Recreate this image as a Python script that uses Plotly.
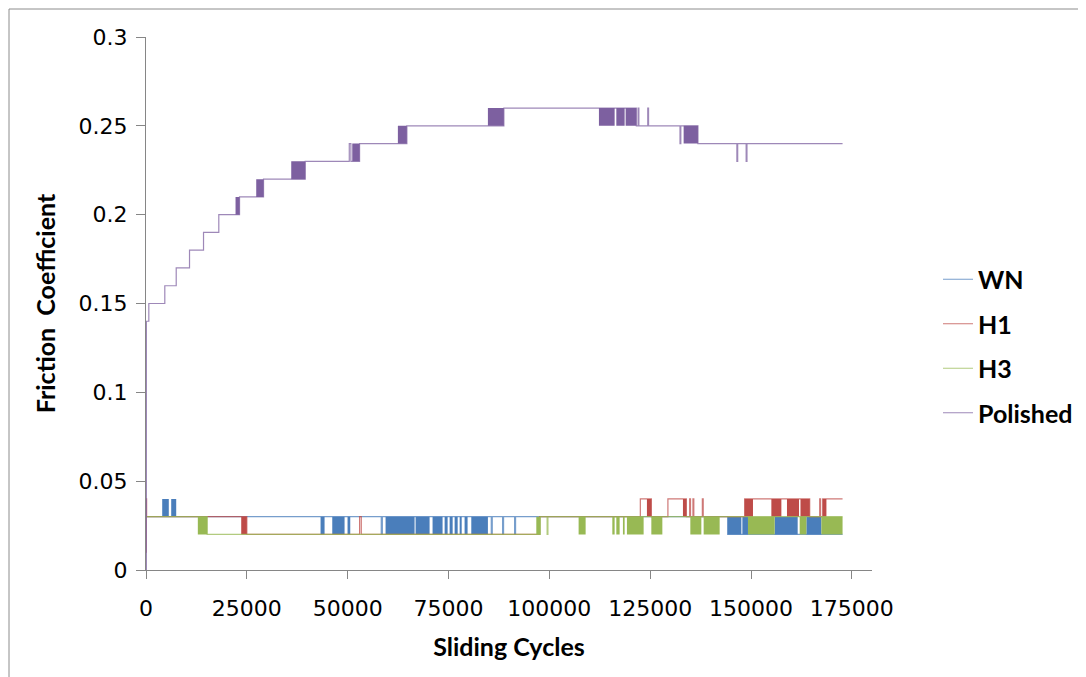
import plotly.graph_objects as go

# ---------------- data ----------------
# step lines: x = sliding cycles, y = friction coefficient (value holds until next x)
wn_x = [0, 58330, 58600, 85610, 85850, 88410, 88650, 91390, 91630, 144220, 172700]
wn_y = [0.03, 0.02, 0.03, 0.02, 0.03, 0.02, 0.03, 0.02, 0.03, 0.02, 0.02]
# dense switching regions (value flickers between lo and hi)
wn_b0 = [4020, 6250, 43280, 46180, 49970, 59400, 66840, 71050, 74040,
         75280, 76520, 77770, 78990, 80650, 144220, 147860, 155870, 163730]
wn_b1 = [5650, 7490, 44270, 49230, 50640, 66590, 70310, 73530, 74780,
         76030, 77270, 78270, 79730, 84770, 147610, 149250, 161570, 167450]
wn_lo = [0.03, 0.03] + [0.02] * 16
wn_hi = [0.04, 0.04] + [0.03] * 16

h1_x = [0, 60, 150, 25000, 52950, 53370, 97590, 122560, 125290, 129400, 133970, 134790, 135000,
        135610, 135820, 137940, 138150, 148430, 164550, 167030, 167250, 167780, 172700]
h1_y = [0.01, 0.04, 0.03, 0.02, 0.03, 0.02, 0.03, 0.04, 0.03, 0.04, 0.03, 0.04, 0.03,
        0.04, 0.03, 0.04, 0.03, 0.04, 0.03, 0.04, 0.03, 0.04, 0.04]
h1_b0 = [23610, 124200, 133130, 148430, 155050, 158920, 162270, 167780]
h1_b1 = [25000, 125290, 133970, 150490, 157530, 161900, 164550, 168700]
h1_lo = [0.02, 0.03, 0.03, 0.03, 0.03, 0.03, 0.03, 0.03]
h1_hi = [0.03, 0.04, 0.04, 0.04, 0.04, 0.04, 0.04, 0.04]

h3_x = [0, 15180, 97760, 99450, 99650, 172700]
h3_y = [0.03, 0.02, 0.03, 0.02, 0.03, 0.03]
h3_b0 = [12850, 96770, 107260, 115620, 116610, 118250, 119240, 125290, 134960, 138260,
         149250, 162070, 167450]
h3_b1 = [15180, 97760, 109000, 116190, 117430, 118670, 123380, 128020, 137690, 142230,
         155870, 163730, 172700]
h3_lo = [0.02] * 13
h3_hi = [0.03] * 13

pol_x = [0, 100, 700, 4660, 7490, 10790, 14260, 18050, 23190, 29140, 39480, 50400, 50800,
         52950, 64680, 88730, 121570, 122000, 122200, 124400, 124600, 132400, 132600, 136850,
         146500, 146700, 148800, 149000, 172700]
pol_y = [0.0, 0.14, 0.15, 0.16, 0.17, 0.18, 0.19, 0.20, 0.21, 0.22, 0.23, 0.24, 0.23,
         0.24, 0.25, 0.26, 0.25, 0.26, 0.25, 0.26, 0.25, 0.24, 0.25, 0.24,
         0.23, 0.24, 0.23, 0.24, 0.24]
pol_b0 = [22200, 27330, 36010, 51140, 62450, 84770, 112300, 116610, 118920, 133300]
pol_b1 = [23190, 29140, 39480, 52950, 64680, 88730, 116190, 118670, 121570, 136850]
pol_lo = [0.20, 0.21, 0.22, 0.23, 0.24, 0.25, 0.25, 0.25, 0.25, 0.24]
pol_hi = [0.21, 0.22, 0.23, 0.24, 0.25, 0.26, 0.26, 0.26, 0.26, 0.25]

series = [
    ("WN", wn_x, wn_y, wn_b0, wn_b1, wn_lo, wn_hi, (74, 126, 187)),
    ("H1", h1_x, h1_y, h1_b0, h1_b1, h1_lo, h1_hi, (190, 75, 72)),
    ("H3", h3_x, h3_y, h3_b0, h3_b1, h3_lo, h3_hi, (152, 185, 84)),
    ("Polished", pol_x, pol_y, pol_b0, pol_b1, pol_lo, pol_hi, (125, 96, 160)),
]

fig = go.Figure()
for name, xs, ys, b0, b1, lo, hi, rgb in series:
    r, g, b = rgb
    fig.add_trace(go.Scatter(
        x=xs, y=ys, name=name, mode="lines", line_shape="hv",
        line=dict(color=f"rgba({r},{g},{b},0.75)", width=1.2),
        legendgroup=name, hoverinfo="skip"))
    px, py = [], []
    for x0, x1, l, h in zip(b0, b1, lo, hi):
        px += [x0, x1, x1, x0, x0, None]
        py += [l, l, h, h, l, None]
    fig.add_trace(go.Scatter(
        x=px, y=py, mode="lines", fill="toself", fillcolor=f"rgb({r},{g},{b})",
        line=dict(width=0, color=f"rgb({r},{g},{b})"), legendgroup=name,
        showlegend=False, hoverinfo="skip"))

# page body has an 8px margin, so figure coords = screen coords - 8
W, H = 1078, 669
L, T = 138, 29
R, B = W - 864, H - 562
pw, ph = W - L - R, H - T - B
axis_col = "#868686"
fig.update_layout(
    width=W, height=H, margin=dict(l=L, r=R, t=T, b=B, autoexpand=False),
    plot_bgcolor="white", paper_bgcolor="white",
    showlegend=True,
    legend=dict(x=(930 - L) / pw, y=(562 - 338) / ph, xanchor="left", yanchor="middle",
                font=dict(family="Lato", size=25, color="black", weight="bold"),
                traceorder="grouped", tracegroupgap=9, bgcolor="rgba(0,0,0,0)"),
    xaxis=dict(range=[0, 180000], tick0=0, dtick=25000, tickformat="d", automargin=False,
               showline=True, linecolor=axis_col, linewidth=1, showgrid=False, zeroline=False,
               ticks="outside", ticklen=8, tickcolor=axis_col,
               tickfont=dict(family="DejaVu Sans", size=22, color="black"),
               ticklabelstandoff=11,
               title=dict(text="Sliding Cycles", standoff=18,
                          font=dict(family="Lato", size=25, color="black", weight="bold"))),
    yaxis=dict(range=[0, 0.3], tick0=0, dtick=0.05, automargin=False,
               showline=True, linecolor=axis_col, linewidth=1, showgrid=False, zeroline=False,
               ticks="outside", ticklen=9, tickcolor=axis_col,
               tickfont=dict(family="DejaVu Sans", size=22, color="black"),
               ticklabelstandoff=4,
               title=dict(text="Friction  Coefficient", standoff=15,
                          font=dict(family="Lato", size=25, color="black", weight="bold"))),
)
# chart frame
fig.add_shape(type="rect", xref="paper", yref="paper",
              x0=(1 - L) / pw, x1=(1090 - L) / pw, y0=(562 - 690) / ph, y1=(562 - 1) / ph,
              line=dict(color="#8c8c8c", width=1), fillcolor="rgba(0,0,0,0)", layer="below")

fig.write_html("out.html")
